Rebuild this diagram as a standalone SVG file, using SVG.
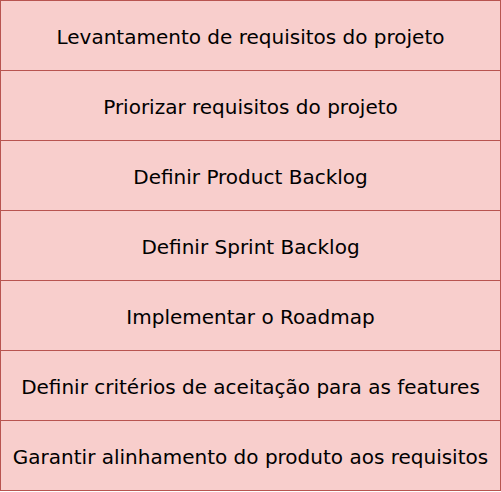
<svg xmlns="http://www.w3.org/2000/svg" width="501" height="492" viewBox="0 0 501 492">
<style>
.box{fill:#f8cecc;stroke:#b85450;stroke-width:1}
.lbl{font-family:"DejaVu Sans",Verdana,sans-serif;font-size:20px;fill:#000;text-anchor:middle}
</style>
<rect width="501" height="492" fill="#ffffff"/>
<g id="n1"><rect class="box" x="0.5" y="0.5" width="500" height="70"/><text class="lbl" x="250.5" y="44">Levantamento de requisitos do projeto</text></g>
<g id="n2"><rect class="box" x="0.5" y="70.5" width="500" height="70"/><text class="lbl" x="250.5" y="114">Priorizar requisitos do projeto</text></g>
<g id="n3"><rect class="box" x="0.5" y="140.5" width="500" height="70"/><text class="lbl" x="250.5" y="184">Definir Product Backlog</text></g>
<g id="n4"><rect class="box" x="0.5" y="210.5" width="500" height="70"/><text class="lbl" x="250.5" y="254">Definir Sprint Backlog</text></g>
<g id="n5"><rect class="box" x="0.5" y="280.5" width="500" height="70"/><text class="lbl" x="250.5" y="324">Implementar o Roadmap</text></g>
<g id="n6"><rect class="box" x="0.5" y="350.5" width="500" height="70"/><text class="lbl" x="250.5" y="394">Definir critérios de aceitação para as features</text></g>
<g id="n7"><rect class="box" x="0.5" y="420.5" width="500" height="70"/><text class="lbl" x="250.5" y="464">Garantir alinhamento do produto aos requisitos</text></g>
<g id="connectors"></g>
</svg>
